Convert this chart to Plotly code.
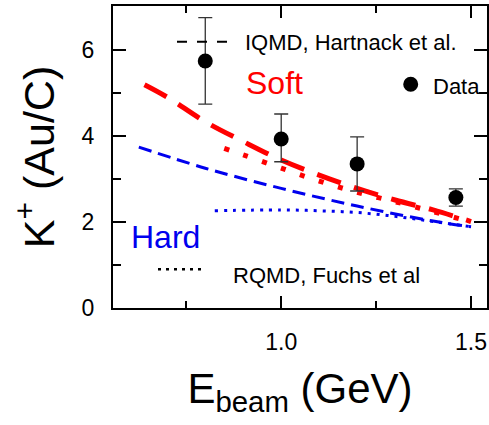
import plotly.graph_objects as go

# ---- data ----
data_x = [0.8, 1.0, 1.2, 1.46]
data_y = [5.74, 3.93, 3.35, 2.57]
data_err_plus = [1.01, 0.58, 0.63, 0.20]
data_err_minus = [1.00, 0.53, 0.63, 0.20]

soft_iqmd_x = [0.64, 0.7, 0.8, 0.9, 1.0, 1.1, 1.2, 1.3, 1.4, 1.5]
soft_iqmd_y = [5.19, 4.90, 4.33, 3.87, 3.44, 3.09, 2.78, 2.51, 2.28, 2.01]

soft_rqmd_x = [0.85, 0.9, 1.0, 1.1, 1.2, 1.3, 1.4, 1.5]
soft_rqmd_y = [3.71, 3.56, 3.25, 2.95, 2.69, 2.47, 2.24, 2.00]

hard_iqmd_x = [0.625, 0.8, 1.0, 1.2, 1.4, 1.5]
hard_iqmd_y = [3.74, 3.25, 2.78, 2.37, 2.02, 1.89]

hard_rqmd_x = [0.825, 1.0, 1.1, 1.2, 1.3, 1.4, 1.5]
hard_rqmd_y = [2.26, 2.28, 2.26, 2.22, 2.13, 2.01, 1.89]

x_tickvals = [1.0, 1.5]
x_ticktext = ["1.0", "1.5"]
y_tickvals = [0, 2, 4, 6]
y_ticktext = ["0", "2", "4", "6"]

FONT = "Liberation Sans"
RED = "#ff0000"
BLUE = "#0000ee"

fig = go.Figure()

fig.add_trace(go.Scatter(x=hard_iqmd_x, y=hard_iqmd_y, mode="lines",
                         line=dict(color=BLUE, width=3, dash="13px,7px", shape="spline"),
                         showlegend=False, hoverinfo="skip"))
fig.add_trace(go.Scatter(x=hard_rqmd_x, y=hard_rqmd_y, mode="lines",
                         line=dict(color=BLUE, width=3, dash="3px,6px", shape="spline"),
                         showlegend=False, hoverinfo="skip"))
fig.add_trace(go.Scatter(x=soft_rqmd_x, y=soft_rqmd_y, mode="lines",
                         line=dict(color=RED, width=5, dash="5px,15px", shape="spline"),
                         showlegend=False, hoverinfo="skip"))
fig.add_trace(go.Scatter(x=soft_iqmd_x, y=soft_iqmd_y, mode="lines",
                         line=dict(color=RED, width=5, dash="25px,14px", shape="spline"),
                         showlegend=False, hoverinfo="skip"))
fig.add_trace(go.Scatter(x=data_x, y=data_y, mode="markers",
                         marker=dict(color="black", size=15),
                         error_y=dict(type="data", array=data_err_plus, arrayminus=data_err_minus,
                                      color="#333333", thickness=1.3, width=7),
                         showlegend=False, hoverinfo="skip"))

# plot-area pixel geometry -> paper coords
L, R, T, B = 113, 487, 6, 308
def px(xp):
    return (xp - L) / (R - L)
def py(yp):
    return (B - yp) / (B - T)

shapes = [
    # dashed legend sample
    dict(type="line", xref="paper", yref="paper", x0=px(177), x1=px(227), y0=py(41.7), y1=py(41.7),
         line=dict(color="black", width=2, dash="10px,10px")),
    # dotted legend sample
    dict(type="line", xref="paper", yref="paper", x0=px(158), x1=px(202), y0=py(269.3), y1=py(269.3),
         line=dict(color="black", width=2.5, dash="3px,5px")),
    # data legend marker
    dict(type="circle", xref="paper", yref="paper", xsizemode="pixel", ysizemode="pixel",
         xanchor=px(410.7), yanchor=py(84.3), x0=-7.5, x1=7.5, y0=-7.5, y1=7.5,
         fillcolor="black", line=dict(color="black", width=0)),
]

annotations = [
    dict(text="IQMD, Hartnack et al.", x=px(243), y=py(42.5), font=dict(size=22, color="black", family=FONT)),
    dict(text="Soft", x=px(244), y=py(82.5), font=dict(size=32, color=RED, family=FONT)),
    dict(text="Data", x=px(431), y=py(86), font=dict(size=22, color="black", family=FONT)),
    dict(text="Hard", x=px(129), y=py(236.7), font=dict(size=32, color=BLUE, family=FONT)),
    dict(text="RQMD, Fuchs et al", x=px(231), y=py(275), font=dict(size=22, color="black", family=FONT)),
]
for a in annotations:
    a.update(xref="paper", yref="paper", xanchor="left", yanchor="middle", showarrow=False)

fig.update_layout(
    width=489, height=425,
    margin=dict(l=L, r=489 - R, t=T, b=425 - B),
    paper_bgcolor="white", plot_bgcolor="white",
    font=dict(family=FONT, color="black"),
    shapes=shapes, annotations=annotations,
    showlegend=False,
)
fig.update_xaxes(
    range=[0.557, 1.542], showgrid=False, zeroline=False, automargin=False,
    showline=True, linecolor="black", linewidth=2, mirror="allticks",
    ticks="inside", tickvals=x_tickvals, ticktext=x_ticktext, ticklen=12, tickwidth=2, tickcolor="black",
    minor=dict(tickvals=[0.75, 1.25], ticks="inside", ticklen=7, tickwidth=2, tickcolor="black", showgrid=False),
    tickfont=dict(size=23, family=FONT), ticklabelstandoff=12,
    title=dict(text="E<sub>beam</sub> (GeV)", font=dict(size=42, family=FONT), standoff=20),
)
fig.update_yaxes(
    range=[0, 7.02], showgrid=False, zeroline=False, automargin=False,
    showline=True, linecolor="black", linewidth=2, mirror="allticks",
    ticks="inside", tickvals=y_tickvals, ticktext=y_ticktext, ticklen=13, tickwidth=2, tickcolor="black",
    minor=dict(tickvals=[1, 3, 5], ticks="inside", ticklen=8, tickwidth=2, tickcolor="black", showgrid=False),
    tickfont=dict(size=23, family=FONT), ticklabelstandoff=12,
    title=dict(text="K<sup>+</sup> (Au/C)", font=dict(size=43, family=FONT), standoff=14),
)

fig.write_html("out.html", config={"displayModeBar": False},
               post_script="document.body.style.margin='0';document.body.style.padding='0';")
